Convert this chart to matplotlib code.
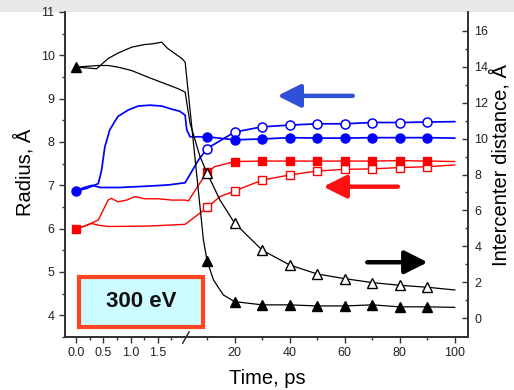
import numpy as np
import matplotlib
matplotlib.use('Agg')
import matplotlib.pyplot as plt
from matplotlib.patches import Rectangle

plt.rcParams['font.family'] = ['Liberation Sans', 'DejaVu Sans']

# ---- radius, blue (left axis) ----
blue_filled_t = [0, 0.2, 0.41, 0.47, 0.53, 0.62, 0.71, 0.77, 0.96, 1.14, 1.36, 1.57, 1.75, 1.90, 2.0,
                 2.6, 3.8, 6.3, 10, 20, 30, 40, 50, 60, 70, 80, 90, 100]
blue_filled_v = [6.87, 6.93, 7.04, 7.35, 7.89, 8.28, 8.47, 8.59, 8.74, 8.83, 8.85, 8.83, 8.76, 8.71, 8.62,
                 8.28, 8.12, 8.12, 8.12, 8.05, 8.07, 8.10, 8.09, 8.09, 8.10, 8.10, 8.10, 8.09]
blue_open_t = [0, 0.15, 0.3, 0.45, 0.8, 1.3, 1.7, 2.0, 6.8, 10, 20, 30, 40, 50, 60, 70, 80, 90, 100]
blue_open_v = [6.87, 6.95, 7.0, 6.95, 6.95, 6.98, 7.01, 7.06, 7.58, 7.85, 8.23, 8.35, 8.39, 8.42, 8.42,
               8.45, 8.45, 8.46, 8.47]

# ---- radius, red (left axis) ----
red_filled_t = [0, 0.16, 0.41, 0.5, 0.59, 0.65, 0.77, 0.93, 1.08, 1.26, 1.51, 1.75, 2.0, 3.2, 6.8, 10,
                12.7, 20, 30, 40, 50, 60, 70, 80, 90, 100]
red_filled_v = [5.99, 6.06, 6.2, 6.43, 6.66, 6.70, 6.62, 6.66, 6.74, 6.69, 6.69, 6.66, 6.66, 6.64, 7.0, 7.3,
                7.43, 7.55, 7.56, 7.56, 7.56, 7.56, 7.56, 7.57, 7.56, 7.55]
red_open_t = [0, 0.29, 0.41, 0.59, 1.32, 2.0, 6.8, 10, 14.7, 20, 30, 40, 50, 60, 70, 80, 90, 100]
red_open_v = [5.99, 6.12, 6.08, 6.05, 6.06, 6.10, 6.33, 6.49, 6.74, 6.87, 7.12, 7.24, 7.33, 7.37, 7.38,
              7.41, 7.43, 7.47]

# ---- intercenter distance, black (right axis) ----
black_filled_t = [0, 0.38, 0.59, 0.77, 1.02, 1.26, 1.41, 1.57, 1.68, 1.81, 1.94, 2.01, 8.65, 10, 12.3,
                  15.9, 20, 30, 40, 50, 60, 70, 80, 90, 100]
black_filled_v = [13.98, 13.89, 14.46, 14.76, 15.09, 15.24, 15.28, 15.37, 15.02, 14.74, 14.46, 14.26,
                  4.35, 3.18, 2.13, 1.29, 0.92, 0.74, 0.74, 0.68, 0.68, 0.74, 0.63, 0.63, 0.6]
black_open_t = [0, 0.41, 0.59, 0.77, 1.02, 1.32, 1.63, 1.87, 2.0, 3.8, 7.45, 10, 14.7, 20, 30, 40, 50,
                60, 70, 80, 90, 100]
black_open_v = [13.98, 14.07, 14.07, 13.98, 13.79, 13.42, 13.06, 12.78, 12.59, 10.85, 8.98, 8.07, 6.57,
                5.29, 3.79, 2.96, 2.46, 2.2, 1.98, 1.83, 1.72, 1.57]

marker_times_filled = [0, 10, 20, 30, 40, 50, 60, 70, 80, 90]
marker_times_open = [10, 20, 30, 40, 50, 60, 70, 80, 90]

x_major = [0, 0.5, 1.0, 1.5, 20, 40, 60, 80, 100]
x_major_labels = ['0.0', '0.5', '1.0', '1.5', '20', '40', '60', '80', '100']
x_minor = [0.25, 0.75, 1.25, 1.75, 10, 30, 50, 70, 90]

# time axis: 0-2 ps stretched, after 2 ps squeezed
BREAK = 2.0
SQUEEZE = 0.0504


def fwd(t):
    t = np.asarray(t, dtype=float)
    return np.where(t <= BREAK, t, BREAK + (t - BREAK) * SQUEEZE)


def inv(x):
    x = np.asarray(x, dtype=float)
    return np.where(x <= BREAK, x, BREAK + (x - BREAK) / SQUEEZE)


def marks(ts, wanted):
    return [i for i, t in enumerate(ts) if t in wanted]


fig = plt.figure(figsize=(5.14, 3.9), dpi=100)
fig.patches.append(Rectangle((0, 1 - 12 / 390), 1, 12 / 390, transform=fig.transFigure,
                             fc='#e8e8e8', ec='none', zorder=-5))
ax = fig.add_axes([65 / 514, 1 - 337 / 390, 403 / 514, 325 / 390])
ax.set_xscale('function', functions=(fwd, inv))
ax2 = ax.twinx()

ax.plot(blue_open_t, blue_open_v, color='blue', lw=1.25, marker='o', ms=6.5, mfc='white', mec='blue',
        mew=1.1, markevery=marks(blue_open_t, marker_times_open))
ax.plot(blue_filled_t, blue_filled_v, color='blue', lw=1.25, marker='o', ms=6.5, mfc='blue', mec='blue',
        markevery=marks(blue_filled_t, marker_times_filled))
ax.plot(red_open_t, red_open_v, color='red', lw=1.0, marker='s', ms=5.5, mfc='white', mec='red',
        mew=1.0, markevery=marks(red_open_t, marker_times_open))
ax.plot(red_filled_t, red_filled_v, color='red', lw=1.0, marker='s', ms=5.5, mfc='red', mec='red',
        markevery=marks(red_filled_t, marker_times_filled))

ax2.plot(black_open_t, black_open_v, color='black', lw=0.9, marker='^', ms=7, mfc='white', mec='black',
         mew=1.0, markevery=marks(black_open_t, marker_times_open))
ax2.plot(black_filled_t, black_filled_v, color='black', lw=0.9, marker='^', ms=7, mfc='black',
         mec='black', markevery=marks(black_filled_t, marker_times_filled))

ax.set_xlim(-0.2, 104.8)
ax.set_ylim(3.5, 11.0)
ax2.set_ylim(-1.05, 17.05)

ax.set_xticks(x_major)
ax.set_xticklabels(x_major_labels)
ax.set_xticks(x_minor, minor=True)
ax.set_yticks(range(4, 12))
ax.set_yticks(np.arange(3.5, 11.0, 1.0), minor=True)
ax2.set_yticks(range(0, 17, 2))
ax2.set_yticks(range(1, 17, 2), minor=True)

spine_c = '#333333'
for a in (ax, ax2):
    a.spines['top'].set_visible(False)
    for s in ('left', 'right', 'bottom'):
        a.spines[s].set_color(spine_c)
        a.spines[s].set_linewidth(1.3)

ax.tick_params(axis='both', which='both', colors=spine_c, labelcolor='#222222', labelsize=9)
ax.tick_params(axis='both', which='major', length=4, width=1.0, pad=3.5)
ax.tick_params(axis='both', which='minor', length=2.5, width=1.0)
ax2.tick_params(axis='y', which='both', direction='in', colors=spine_c, labelcolor='#222222',
                labelsize=9, width=1.0)
ax2.tick_params(axis='y', which='major', length=4.5, pad=4.5)
ax2.tick_params(axis='y', which='minor', length=2.5)

ax.set_ylabel('Radius, Å', fontsize=14.5)
ax.yaxis.set_label_coords(-0.075, 0.505)
ax2.set_ylabel('Intercenter distance, Å', fontsize=14.5)
ax2.yaxis.set_label_coords(1.055, 0.53)
ax.set_xlabel('Time, ps', fontsize=14.5)
ax.xaxis.set_label_coords(0.502, -0.098)

# break mark on the time axis
ax2.plot([0.292, 0.308], [-0.019, 0.016], transform=ax2.transAxes, color='#222222', lw=1.0,
         clip_on=False)

# direction arrows
arrows = [((0.527, 0.742), (0.714, 0.742), '#3050d8'),
          ((0.641, 0.4625), (0.826, 0.4625), '#ff1010'),
          ((0.900, 0.230), (0.750, 0.230), 'black')]
for tip, tail, col in arrows:
    ax2.annotate('', xy=tip, xytext=tail, xycoords='axes fraction',
                 arrowprops=dict(arrowstyle='-|>,head_length=1.0,head_width=0.5', color=col, lw=3.2,
                                 mutation_scale=14, shrinkA=0, shrinkB=0))

ax2.add_patch(Rectangle((0.035, 0.031), 0.307, 0.154, transform=ax2.transAxes, fc='#ccfcff',
                        ec='#ff4422', lw=3, zorder=5))
ax2.text(0.1885, 0.108, '300 eV', transform=ax2.transAxes, ha='center', va='center', fontsize=16,
         fontweight='bold', color='#111111', zorder=6)

fig.savefig('out.png', dpi=100)
